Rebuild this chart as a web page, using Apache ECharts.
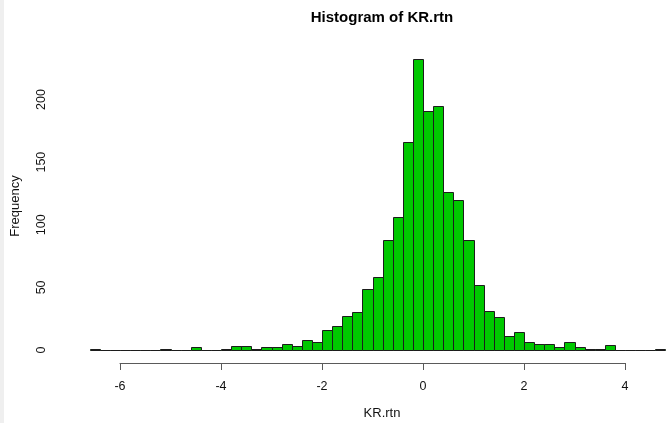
<!DOCTYPE html>
<html>
<head>
<meta charset="utf-8">
<script src="https://cdn.jsdelivr.net/npm/echarts@6/dist/echarts.min.js"></script>
<style>
  html, body { margin: 0; padding: 0; background: #ffffff; }
  #chart { width: 666px; height: 423px; }
</style>
</head>
<body>
<div id="chart"></div>
<script>
// Histogram breaks (bin edges) and counts per bin
const breaks = [
  -6.6, -6.4, -6.2, -6.0, -5.8, -5.6, -5.4, -5.2, -5.0, -4.8,
  -4.6, -4.4, -4.2, -4.0, -3.8, -3.6, -3.4, -3.2, -3.0, -2.8,
  -2.6, -2.4, -2.2, -2.0, -1.8, -1.6, -1.4, -1.2, -1.0, -0.8,
  -0.6, -0.4, -0.2, 0.0, 0.2, 0.4, 0.6, 0.8, 1.0, 1.2,
  1.4, 1.6, 1.8, 2.0, 2.2, 2.4, 2.6, 2.8, 3.0, 3.2,
  3.4, 3.6, 3.8, 4.0, 4.2, 4.4, 4.6, 4.8
];
const counts = [
  1, 0, 0, 0, 0, 0, 0, 1, 0, 0,
  2, 0, 0, 1, 3, 3, 1, 2, 2, 5,
  3, 8, 6, 16, 19, 27, 30, 49, 58, 88,
  106, 166, 232, 191, 195, 126, 120, 88, 52, 31,
  26, 11, 14, 6, 5, 5, 2, 6, 2, 1,
  1, 4, 0, 0, 0, 0, 1
];
const xTicks = [-6, -4, -2, 0, 2, 4];
const yTicks = [0, 50, 100, 150, 200];

const titleText = 'Histogram of KR.rtn';
const xName = 'KR.rtn';
const yName = 'Frequency';

const bins = counts.map((c, i) => [breaks[i], breaks[i + 1], c]);

const chart = echarts.init(document.getElementById('chart'), null, { renderer: 'canvas' });

const fontFamily = '"Liberation Sans", Arial, Helvetica, sans-serif';

chart.setOption({
  backgroundColor: '#ffffff',
  animation: false,
  grid: [
    // plotting region for the bars; its left edge carries the Frequency axis
    { left: 65, right: 0, top: 99.5, height: 250.5 },
    // the labelled x axis spans only the pretty tick range
    { left: 120, width: 505, top: 362, height: 1 }
  ],
  xAxis: [
    {
      gridIndex: 0, type: 'value',
      min: -(423 - 65) / 50.5, max: (666 - 423) / 50.5,
      show: false
    },
    {
      gridIndex: 1, type: 'value',
      min: xTicks[0], max: xTicks[xTicks.length - 1], interval: 2,
      position: 'bottom',
      axisLine: { show: true, lineStyle: { color: '#5a5a5a', width: 1 } },
      axisTick: { show: true, inside: false, length: 7, lineStyle: { color: '#5a5a5a', width: 1 } },
      axisLabel: { show: true, margin: 17, color: '#111', fontSize: 12.5, fontFamily: fontFamily },
      splitLine: { show: false }
    }
  ],
  yAxis: [
    {
      gridIndex: 0, type: 'value',
      min: yTicks[0], max: yTicks[yTicks.length - 1], interval: 50,
      position: 'left',
      axisLine: { show: true, lineStyle: { color: '#333', width: 1 } },
      axisTick: { show: true, inside: false, length: 7, lineStyle: { color: '#333', width: 1 } },
      axisLabel: { show: true, rotate: 90, margin: 17, color: '#111', fontSize: 12.5, fontFamily: fontFamily },
      splitLine: { show: false }
    },
    { gridIndex: 1, type: 'value', show: false }
  ],
  graphic: [
    { type: 'rect', left: 0, top: 0, shape: { width: 4, height: 423 }, style: { fill: '#efefef' }, silent: true },
    {
      type: 'text', x: 382, y: 18,
      style: { text: titleText, textAlign: 'center', textVerticalAlign: 'middle',
               font: 'bold 15px ' + fontFamily, fill: '#000' }
    },
    {
      type: 'text', x: 382, y: 413,
      style: { text: xName, textAlign: 'center', textVerticalAlign: 'middle',
               font: '13px ' + fontFamily, fill: '#111' }
    },
    {
      type: 'text', x: 15, y: 206, rotation: Math.PI / 2,
      style: { text: yName, textAlign: 'center', textVerticalAlign: 'middle',
               font: '13px ' + fontFamily, fill: '#111' }
    }
  ],
  series: [
    {
      type: 'custom',
      xAxisIndex: 0, yAxisIndex: 0,
      clip: false,
      data: bins,
      renderItem: function (params, api) {
        const lo = api.coord([api.value(0), 0]);
        const hi = api.coord([api.value(1), api.value(2)]);
        const x0 = Math.round(lo[0]) + 0.5;
        const x1 = Math.round(hi[0]) + 0.5;
        const yb = Math.round(lo[1]) + 0.5;
        const yt = Math.round(hi[1]) + 0.5;
        return {
          type: 'rect',
          shape: { x: x0, y: yt, width: x1 - x0, height: yb - yt },
          style: { fill: '#00c800', stroke: '#1c1c1c', lineWidth: 1 }
        };
      }
    }
  ]
});
</script>
</body>
</html>
